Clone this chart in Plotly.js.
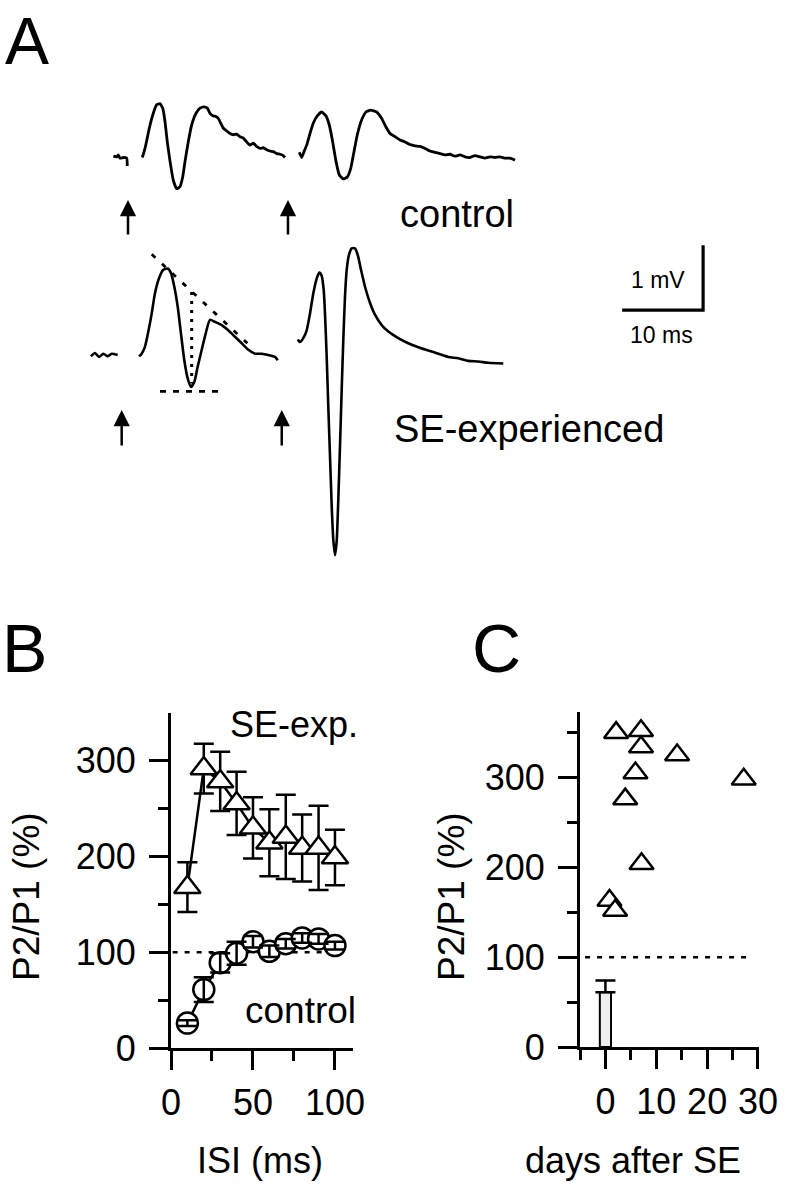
<!DOCTYPE html>
<html><head><meta charset="utf-8">
<script src="https://cdn.plot.ly/plotly-3.0.1.min.js"></script>
<style>html,body{margin:0;padding:0;background:#fff}#chart{width:792px;height:1199px}</style>
</head><body><div id="chart"></div>
<script>
// ---------- Panel A: field potential traces (time in ms, voltage in mV rel. baseline) ----------
const ctrlTime = [-1.81,-1.40,-1.20,-0.99,-0.58,-0.16,-0.09, null,
  1.77,2.10,2.63,3.12,3.54,3.95,4.28,4.57,4.85,5.19,5.59,6.01,6.42,6.75,7.04,7.44,7.86,8.40,8.89,9.38,9.79,
  10.12,10.53,10.86,11.15,11.44,11.77,12.18,12.59,13.00,13.42,13.83,14.23,14.65,15.06,15.47,15.88,16.30,16.70,17.12,17.53,17.94,18.36,18.77,19.17,19.38, null,
  21.15,21.44,21.73,22.06,22.47,22.88,23.37,23.91,24.44,24.85,25.27,25.68,26.09,26.58,27.07,27.49,27.90,28.31,28.85,29.38,29.96,
  30.70,31.32,31.85,32.35,32.96,33.58,34.20,34.81,35.43,36.05,36.67,37.28,37.90,38.52,39.14,39.75,40.37,40.99,41.60,42.22,42.84,43.46,44.07,44.69,45.31,45.93,46.54,47.16,47.78];
const ctrlMv = [0.02,0.01,0.04,-0.01,0.00,-0.01,-0.13, null,
  0.00,0.14,0.45,0.68,0.81,0.83,0.76,0.55,0.24,-0.06,-0.35,-0.48,-0.45,-0.30,-0.06,0.24,0.50,0.68,0.76,0.78,0.76,
  0.68,0.64,0.63,0.60,0.53,0.45,0.41,0.37,0.35,0.36,0.32,0.30,0.24,0.19,0.22,0.17,0.14,0.15,0.12,0.10,0.09,0.06,0.05,0.03,0.00, null,
  0.08,0.00,0.09,0.19,0.37,0.53,0.64,0.70,0.64,0.50,0.24,-0.06,-0.27,-0.33,-0.30,-0.17,0.09,0.35,0.58,0.70,0.73,
  0.70,0.60,0.47,0.37,0.32,0.27,0.24,0.20,0.18,0.17,0.14,0.10,0.08,0.06,0.04,0.05,0.02,0.04,0.01,0.00,0.03,0.01,-0.01,0.01,0.00,0.01,-0.01,-0.01,-0.04];
const seTime = [-4.57,-4.07,-3.58,-3.05,-2.51,-2.01,-1.27, null,
  1.36,1.69,2.10,2.51,2.93,3.33,3.83,4.36,4.90,5.31,5.72,6.14,6.54,6.95,7.37,7.78,8.19,8.60,9.10,9.59,10.12,10.74,11.57,12.38,13.21,14.04,14.86,15.68,16.51,17.32,18.15,18.48, null,
  20.95,21.23,21.64,22.06,22.47,22.88,23.30,23.62,23.91,24.16,24.32,24.53,24.73,24.94,25.15,25.35,25.56,25.77,25.96,26.17,26.38,26.58,26.79,27.00,27.28,27.62,28.02,28.36,28.77,29.26,29.88,30.49,31.32,32.14,33.37,34.60,35.84,37.07,38.31,39.54,40.78,42.01,43.25,44.48,46.33];
const seMv = [-0.02,0.03,-0.03,0.02,-0.02,0.02,0.00, null,
  -0.02,0.02,0.13,0.36,0.64,0.95,1.18,1.31,1.33,1.26,1.05,0.74,0.33,-0.08,-0.36,-0.49,-0.41,-0.18,0.08,0.33,0.54,0.51,0.46,0.38,0.28,0.18,0.08,0.02,0.02,0.00,-0.03,-0.08, null,
  0.24,0.20,0.26,0.38,0.64,0.95,1.18,1.27,1.22,1.00,0.64,-0.03,-0.80,-1.56,-2.33,-2.85,-3.08,-2.85,-2.23,-1.41,-0.54,0.23,0.90,1.31,1.54,1.64,1.64,1.54,1.31,1.05,0.80,0.62,0.46,0.36,0.26,0.18,0.12,0.07,0.02,-0.03,-0.05,-0.09,-0.10,-0.12,-0.13];
// measurement guides on the first SE response
const guideTangentT = [2.93, 14.74], guideTangentV = [1.55, 0.18];
const guideVertT = [7.86, 7.86], guideVertV = [0.97, -0.44];
const guideTroughT = [3.95, 11.15], guideTroughV = [-0.56, -0.56];
const ctrlStim = [0, 19.75];
const seStim = [-0.78, 18.98];
const scaleMs = 10, scaleMv = 1;

// ---------- Panel B: paired-pulse ratio vs ISI ----------
const isi = [10,20,30,40,50,60,70,80,90,100];
const seExpRatio = [168,292,278.5,255.5,230,214.5,220.5,209,209,199];
const seExpSem = [26,26,31,33,32,35,44,35,44,29];
const controlRatio = [26,61,89,99,111,101,109,115,114,107];
const controlSem = [3,13,10,12,6,6,5,5,5,4];
const bYTicks = [0,100,200,300], bXTicks = [0,50,100];

// ---------- Panel C: ratio vs days after SE ----------
const daysAfterSE = [2.1,7.0,7.0,14.1,5.9,3.9,27.2,7.1,0.8,1.9];
const ratioByDay = [350,352,334,325,305,276,298,204,163,152];
const ctrlBarDay = [0], ctrlBarRatio = [61], ctrlBarSem = [13];
const cYTicks = [0,100,200,300], cXTicks = [0,10,20,30];
const refLevel = 100;

// ---------- layout helpers ----------
const W = 792, H = 1199;
const fx = px => px / W, fy = py => 1 - py / H;
const FONT = 'Liberation Sans, Arial, sans-serif';
const BLACK = '#000';

// panel A scale: 8.1 px per ms, 65 px per mV
const aT0px = 128, pxPerMs = 8.1, pxPerMv = 65;
const aTop = 0, aBottom = 600;
const ctrlBasePx = 157.5, seBasePx = 355;

const traces = [];
// Panel A
traces.push({x: ctrlTime, y: ctrlMv, xaxis:'x3', yaxis:'y3', mode:'lines',
  line:{color:BLACK, width:2.8, shape:'spline', smoothing:0.4}, hoverinfo:'skip'});
traces.push({x: seTime, y: seMv, xaxis:'x3', yaxis:'y4', mode:'lines',
  line:{color:BLACK, width:2.6, shape:'spline', smoothing:0.6}, hoverinfo:'skip'});
traces.push({x: guideTangentT, y: guideTangentV, xaxis:'x3', yaxis:'y4', mode:'lines',
  line:{color:BLACK, width:2.8, dash:'5px,9px'}});
traces.push({x: guideVertT, y: guideVertV, xaxis:'x3', yaxis:'y4', mode:'lines',
  line:{color:BLACK, width:3, dash:'3px,6px'}});
traces.push({x: guideTroughT, y: guideTroughV, xaxis:'x3', yaxis:'y4', mode:'lines',
  line:{color:BLACK, width:2.8, dash:'6px,7px'}});
// scale bar
const sbT = 71, sbV = 0.69;
traces.push({x:[sbT - scaleMs, sbT, sbT], y:[sbV, sbV, sbV + scaleMv], xaxis:'x3', yaxis:'y4', mode:'lines',
  line:{color:BLACK, width:3.2}});

// Panel B
traces.push({x:[1, 95], y:[refLevel, refLevel], xaxis:'x', yaxis:'y', mode:'lines',
  line:{color:BLACK, width:2.5, dash:'5px,7px'}});
traces.push({x: isi, y: seExpRatio, xaxis:'x', yaxis:'y', mode:'lines+markers',
  line:{color:BLACK, width:2.5},
  marker:{symbol:'triangle-up', size:23, color:'#fff', line:{color:BLACK, width:2.5}},
  error_y:{type:'data', array:seExpSem, color:BLACK, thickness:2.5, width:10}, cliponaxis:false});
traces.push({x: isi, y: controlRatio, xaxis:'x', yaxis:'y', mode:'lines+markers',
  line:{color:BLACK, width:2.5},
  marker:{symbol:'circle', size:21, color:'#fff', line:{color:BLACK, width:2.5}}, cliponaxis:false});
traces.push({x: isi, y: controlRatio, xaxis:'x', yaxis:'y', mode:'markers',
  marker:{size:1, color:'rgba(0,0,0,0)'},
  error_y:{type:'data', array:controlSem, color:BLACK, thickness:2.5, width:10}, cliponaxis:false});

// Panel C
traces.push({x:[-4, 28.4], y:[refLevel, refLevel], xaxis:'x2', yaxis:'y2', mode:'lines',
  line:{color:BLACK, width:2.5, dash:'5px,7px'}});
traces.push({type:'bar', x: ctrlBarDay, y: ctrlBarRatio, width:2.2, xaxis:'x2', yaxis:'y2',
  marker:{color:'#efefef', line:{color:BLACK, width:2}},
  error_y:{type:'data', array:ctrlBarSem, arrayminus:[0], symmetric:false, color:BLACK, thickness:2.5, width:10}});
traces.push({x: daysAfterSE, y: ratioByDay, xaxis:'x2', yaxis:'y2', mode:'markers',
  marker:{symbol:'triangle-up', size:21, color:'#fff', line:{color:BLACK, width:2.5}}, cliponaxis:false});

function axisStyle(extra) {
  return Object.assign({
    showline:true, linecolor:BLACK, linewidth:3, ticks:'outside', ticklen:19, tickwidth:3,
    tickcolor:BLACK, showgrid:false, zeroline:false, fixedrange:true,
    tickfont:{family:FONT, size:36, color:BLACK}
  }, extra);
}

const layout = {
  width: W, height: H, margin:{l:0, r:0, t:0, b:0}, showlegend:false,
  paper_bgcolor:'#fff', plot_bgcolor:'rgba(0,0,0,0)', bargap:0,
  font:{family:FONT, color:BLACK},
  xaxis: axisStyle({domain:[fx(171), fx(353)], anchor:'y', range:[0,111],
    tickmode:'array', tickvals:bXTicks, ticktext:bXTicks.map(String), ticklabelstandoff:2,
    minor:{tickmode:'array', tickvals:[25,75], ticks:'outside', ticklen:10, tickwidth:3, tickcolor:BLACK, showgrid:false}}),
  yaxis: axisStyle({domain:[fy(1048), fy(713)], anchor:'x', range:[0,350],
    tickmode:'array', tickvals:bYTicks, ticktext:bYTicks.map(String), ticklabelstandoff:6,
    minor:{tickmode:'array', tickvals:[50,150,250], ticks:'outside', ticklen:10, tickwidth:3, tickcolor:BLACK, showgrid:false}}),
  xaxis2: axisStyle({domain:[fx(580), fx(759)], anchor:'y2', range:[-5,30.2],
    tickmode:'array', tickvals:cXTicks, ticktext:cXTicks.map(String), ticklabelstandoff:2,
    minor:{tickmode:'array', tickvals:[-5,5,15,25], ticks:'outside', ticklen:10, tickwidth:3, tickcolor:BLACK, showgrid:false}}),
  yaxis2: axisStyle({domain:[fy(1047), fy(712)], anchor:'x2', range:[0,373],
    tickmode:'array', tickvals:cYTicks, ticktext:cYTicks.map(String), ticklabelstandoff:6,
    minor:{tickmode:'array', tickvals:[50,150,250,350], ticks:'outside', ticklen:10, tickwidth:3, tickcolor:BLACK, showgrid:false}}),
  xaxis3: {domain:[0,1], anchor:'y3', range:[(0 - aT0px)/pxPerMs, (W - aT0px)/pxPerMs], visible:false, fixedrange:true},
  yaxis3: {domain:[fy(aBottom), fy(aTop)], anchor:'x3', range:[(ctrlBasePx - aBottom)/pxPerMv, (ctrlBasePx - aTop)/pxPerMv], visible:false, fixedrange:true},
  yaxis4: {overlaying:'y3', anchor:'x3', range:[(seBasePx - aBottom)/pxPerMv, (seBasePx - aTop)/pxPerMv], visible:false, fixedrange:true},
  annotations: []
};

function label(text, px, py, size, opts) {
  layout.annotations.push(Object.assign({text:text, xref:'paper', yref:'paper', x:fx(px), y:fy(py),
    xanchor:'left', yanchor:'middle', showarrow:false, font:{family:FONT, size:size, color:BLACK}}, opts||{}));
}
label('A', 3, 41, 66);
label('B', 0, 648, 68);
label('C', 470, 648, 68);
label('control', 398, 214, 38);
label('SE-experienced', 392, 429, 38);
label('1 mV', 658, 280, 23, {xanchor:'center'});
label('10 ms', 661, 335, 23, {xanchor:'center'});
label('SE-exp.', 228, 725, 36);
label('control', 243, 1010, 37);
label('P2/P1 (%)', 27, 897, 37, {xanchor:'center', textangle:-90});
label('P2/P1 (%)', 452, 897, 37, {xanchor:'center', textangle:-90});
label('ISI (ms)', 260, 1160, 36, {xanchor:'center'});
label('days after SE', 633, 1160, 36, {xanchor:'center'});

// stimulus arrows
function arrow(t, yref, headV, tailV) {
  layout.annotations.push({xref:'x3', yref:yref, axref:'x3', ayref:yref, x:t, y:headV, ax:t, ay:tailV,
    text:'', showarrow:true, arrowhead:2, arrowsize:1.3, arrowwidth:2.5, arrowcolor:BLACK});
}
ctrlStim.forEach(t => arrow(t, 'y3', (ctrlBasePx - 200)/pxPerMv, (ctrlBasePx - 236)/pxPerMv));
seStim.forEach(t => arrow(t, 'y4', (seBasePx - 410)/pxPerMv, (seBasePx - 447)/pxPerMv));

Plotly.newPlot('chart', traces, layout, {staticPlot:true, displayModeBar:false});
</script></body></html>
